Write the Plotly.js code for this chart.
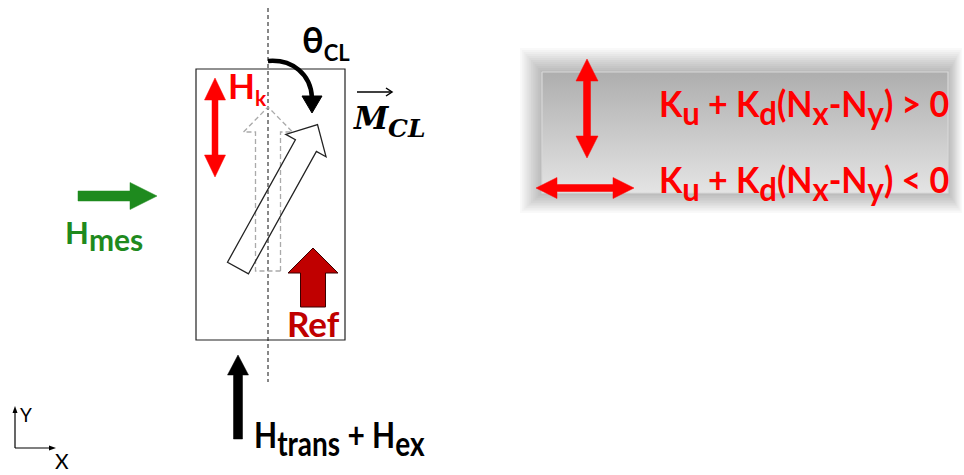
<!DOCTYPE html>
<html><head><meta charset="utf-8">
<script src="https://cdn.plot.ly/plotly-3.0.1.min.js"></script>
<style>html,body{margin:0;padding:0;background:#fff;overflow:hidden}</style>
</head><body><div id="chart" style="width:964px;height:475px;"></div>
<script>
// ---------- diagram data (pixel space: x right, y down) ----------
const frameBox = [196, 69, 345, 340];          // sample rectangle x0,y0,x1,y1
const centerLine = [268, 8, 382];               // dashed axis x, y0, y1
const legendBox = [542, 72, 948, 193];          // grey legend panel
const legendShadow = [22, 14, 24, 20];          // blur margins l,r,t,b
const legendGrad = ['#aeaeae', '#e4e4e4'];      // top, bottom
// arrows: [x0,y0,x1,y1, shaftW, headW, headL, double]
const arrowHk      = [215, 177, 215, 78, 6, 21, 22, true];
const arrowLegV    = [587, 158, 587, 59, 7, 22, 22, true];
const arrowLegH    = [536, 188, 634, 188, 7, 21, 21, true];
const arrowHmes    = [78, 196, 157, 196, 10, 27, 27, false];
const arrowHtrans  = [238, 439, 238, 355, 9, 21, 20, false];
const arrowRef     = [313, 307, 313, 248, 25, 50, 25, false];
const arrowGhost   = [268, 271, 268, 107, 25, 49, 25, false];
const tiltBase = [238, 268], tiltAngle = 29, tiltLen = 164, tiltShaft = 24, tiltHeadW = 46, tiltHeadL = 24;
// labels
const sub = (s, px) => '<sub><span style="font-size:' + px + 'px">' + s + '</span></sub>';
const labelLeg1 = 'K' + sub('u',31) + ' + K' + sub('d',31) + '(N' + sub('x',31) + '-N' + sub('y',31) + ') &gt; 0';
const labelLeg2 = 'K' + sub('u',31) + ' + K' + sub('d',31) + '(N' + sub('x',31) + '-N' + sub('y',31) + ') &lt; 0';
const labelHtrans = 'H' + sub('trans',28) + ' + H' + sub('ex',28);
const labelHmes = 'H' + sub('mes',30);
const labelHk = 'H' + sub('k',21);
const labelTheta = 'θ' + sub('CL',22);
const labelRef = 'Ref';

const RED = '#ff0000', DARKRED = '#c00000', GREEN = '#1e8a1e';

function arrowPath(a){
  const [x0,y0,x1,y1,sw,hw,hl,dbl] = a;
  const dx=x1-x0, dy=y1-y0, L=Math.hypot(dx,dy);
  const ux=dx/L, uy=dy/L, px=-uy, py=ux;
  const P=(t,s)=>[x0+ux*t+px*s, y0+uy*t+py*s];
  let pts;
  if(dbl){
    pts=[P(0,0),P(hl,hw/2),P(hl,sw/2),P(L-hl,sw/2),P(L-hl,hw/2),P(L,0),P(L-hl,-hw/2),P(L-hl,-sw/2),P(hl,-sw/2),P(hl,-hw/2)];
  } else {
    pts=[P(0,sw/2),P(L-hl,sw/2),P(L-hl,hw/2),P(L,0),P(L-hl,-hw/2),P(L-hl,-sw/2),P(0,-sw/2)];
  }
  return 'M'+pts.map(p=>p[0].toFixed(1)+','+p[1].toFixed(1)).join('L')+'Z';
}
const rad = tiltAngle*Math.PI/180;
const arrowTilt = [tiltBase[0], tiltBase[1], tiltBase[0]+tiltLen*Math.sin(rad), tiltBase[1]-tiltLen*Math.cos(rad), tiltShaft, tiltHeadW, tiltHeadL, false];

const shapes = [];
// legend shadow (soft blur)
const N = 12;
for(let i=N;i>=1;i--){
  const f=i/N;
  shapes.push({type:'rect', xref:'x', yref:'y', layer:'below',
    x0:legendBox[0]-legendShadow[0]*f, x1:legendBox[2]+legendShadow[1]*f,
    y0:legendBox[1]-legendShadow[2]*f, y1:legendBox[3]+legendShadow[3]*f,
    line:{width:0}, fillcolor:'rgba(0,0,0,0.024)'});
}
// frame and center line
shapes.push({type:'rect', xref:'x', yref:'y', x0:frameBox[0], y0:frameBox[1], x1:frameBox[2], y1:frameBox[3], line:{color:'#222', width:1.2}});
shapes.push({type:'line', xref:'x', yref:'y', x0:centerLine[0], x1:centerLine[0], y0:centerLine[1], y1:centerLine[2], line:{color:'#111', width:1, dash:'4px,3px'}});
// ghost arrow
shapes.push({type:'path', xref:'x', yref:'y', path:arrowPath(arrowGhost), line:{color:'#aaaaaa', width:1.3, dash:'5px,3px'}});
// tilted magnetisation arrow
shapes.push({type:'path', xref:'x', yref:'y', path:arrowPath(arrowTilt), line:{color:'#222', width:1.3}});
// theta arc
shapes.push({type:'path', xref:'x', yref:'y', path:'M268,61 C292,59 311,74 312,98', line:{color:'#000', width:4.5}});
shapes.push({type:'path', xref:'x', yref:'y', path:'M302,96 L322,96 L312,113 Z', fillcolor:'#000', line:{color:'#000', width:1}});
// M vector arrow
shapes.push({type:'line', xref:'x', yref:'y', x0:357, x1:392, y0:92, y1:92, line:{color:'#000', width:1.5}});
shapes.push({type:'path', xref:'x', yref:'y', path:'M386,88 L392,92 L386,96', line:{color:'#000', width:1.5}});
// filled arrows
shapes.push({type:'path', xref:'x', yref:'y', path:arrowPath(arrowHk), fillcolor:RED, line:{color:RED, width:0.5}});
shapes.push({type:'path', xref:'x', yref:'y', path:arrowPath(arrowLegV), fillcolor:RED, line:{color:RED, width:0.5}});
shapes.push({type:'path', xref:'x', yref:'y', path:arrowPath(arrowLegH), fillcolor:RED, line:{color:RED, width:0.5}});
shapes.push({type:'path', xref:'x', yref:'y', path:arrowPath(arrowHmes), fillcolor:GREEN, line:{color:GREEN, width:0.5}});
shapes.push({type:'path', xref:'x', yref:'y', path:arrowPath(arrowHtrans), fillcolor:'#000', line:{color:'#000', width:0.5}});
shapes.push({type:'path', xref:'x', yref:'y', path:arrowPath(arrowRef), fillcolor:DARKRED, line:{color:'#3a0000', width:1}});
// axis icon
shapes.push({type:'line', xref:'x', yref:'y', x0:15, x1:15, y0:448, y1:411, line:{color:'#000', width:1.2}});
shapes.push({type:'path', xref:'x', yref:'y', path:'M12.5,413 L17.5,413 L15,406 Z', fillcolor:'#000', line:{width:0}});
shapes.push({type:'line', xref:'x', yref:'y', x0:15, x1:50, y0:448, y1:448, line:{color:'#000', width:1.2}});
shapes.push({type:'path', xref:'x', yref:'y', path:'M49,445.5 L49,450.5 L56,448 Z', fillcolor:'#000', line:{width:0}});

// legend panel with vertical gradient
const traces = [{
  x:[legendBox[0],legendBox[2],legendBox[2],legendBox[0],legendBox[0]],
  y:[legendBox[1],legendBox[1],legendBox[3],legendBox[3],legendBox[1]],
  mode:'lines', fill:'toself', line:{color:'#d8d8d8', width:1.2}, hoverinfo:'skip', showlegend:false,
  fillgradient:{type:'vertical', start:legendBox[1], stop:legendBox[3], colorscale:[[0,legendGrad[0]],[1,legendGrad[1]]]}
}];

// text: [text, left, baseline, size, stretch, color, family, ascent, weight]
const LATO = 'Lato, "Open Sans", "DejaVu Sans", sans-serif';
const SERIF = '"DejaVu Serif", "Liberation Serif", serif';
const texts = [
  [labelLeg1, 657, 117, 34, 1.04, RED, LATO, 0.987, 700],
  [labelLeg2, 657, 193, 34, 1.04, RED, LATO, 0.987, 700],
  [labelHtrans, 252, 448, 30, 1.21, '#000', LATO, 0.987, 700],
  [labelRef, 285, 337, 35, 1.0, DARKRED, LATO, 0.987, 700],
  [labelHk, 226, 99, 35, 1.0, RED, LATO, 0.987, 700],
  [labelHmes, 63, 244, 31, 1.0, GREEN, LATO, 0.987, 700],
  [labelTheta, 300, 53, 36, 1.0, '#000', LATO, 0.987, 700],
  ['<b><i>M</i></b>', 351, 129, 31, 1.0, '#000', SERIF, 0.928, 700],
  ['<b><i>CL</i></b>', 386, 137, 25, 1.0, '#000', SERIF, 0.928, 700],
  ['Y', 18, 422, 19, 1.0, '#000', LATO, 0.987, 400],
  ['X', 53, 469, 21, 1.0, '#000', LATO, 0.987, 400]
];
const annotations = texts.map(t=>({
  text:t[0], xref:'x', yref:'y', x:t[1], y:t[2]-t[7]*t[3]*t[4]-2,
  xanchor:'left', yanchor:'top', showarrow:false,
  font:{family:t[6], size:t[3], color:t[5], weight:t[8]}
}));

const layout = {
  width:964, height:475, margin:{l:0,r:0,t:0,b:0},
  paper_bgcolor:'#fff', plot_bgcolor:'#fff',
  xaxis:{range:[0,964], visible:false, fixedrange:true},
  yaxis:{range:[475,0], visible:false, fixedrange:true},
  shapes, annotations, showlegend:false
};
Plotly.newPlot('chart', traces, layout, {staticPlot:true, displayModeBar:false}).then(()=>{
  document.querySelectorAll('#chart .annotation').forEach((g,i)=>{
    const s = texts[i] && texts[i][4];
    if(s && s !== 1){
      const t = g.querySelector('text');
      t.style.transformBox='fill-box';
      t.style.transformOrigin='0% 0%';
      t.style.transform='scaleY('+s+')';
    }
  });
});
</script></body></html>
